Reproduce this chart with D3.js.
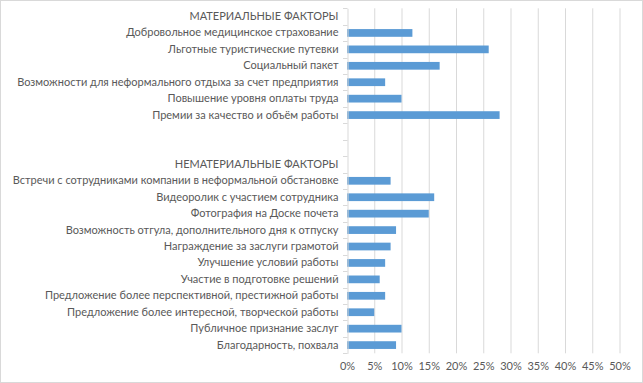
<!DOCTYPE html>
<html><head><meta charset="utf-8">
<script src="https://cdn.jsdelivr.net/npm/d3@7"></script>
<style>body{margin:0;background:#fff}svg{display:block}</style>
</head><body>
<script>
const categories = [
  "МАТЕРИАЛЬНЫЕ ФАКТОРЫ",
  "Добровольное медицинское страхование",
  "Льготные туристические путевки",
  "Социальный пакет",
  "Возможности для неформального отдыха за счет предприятия",
  "Повышение уровня оплаты труда",
  "Премии за качество и объём работы",
  "",
  " ",
  "НЕМАТЕРИАЛЬНЫЕ ФАКТОРЫ",
  "Встречи с сотрудниками компании в неформальной обстановке",
  "Видеоролик с участием сотрудника",
  "Фотография на Доске почета",
  "Возможность отгула, дополнительного дня к отпуску",
  "Награждение за заслуги грамотой",
  "Улучшение условий работы",
  "Участие в подготовке решений",
  "Предложение более перспективной, престижной работы",
  "Предложение более интересной, творческой работы",
  "Публичное признание заслуг",
  "Благодарность, похвала"
];
const values = [null, 12, 26, 17, 7, 10, 28, null, null, null, 8, 16, 15, 9, 8, 7, 6, 7, 5, 10, 9];
const tickValues = [0,5,10,15,20,25,30,35,40,45,50];

(function(){
const W = 643, H = 383;
const pL = 347, pR = 619.5, pT = 8.3, pB = 353.3;
const svg = d3.select("body").append("svg").attr("width", W).attr("height", H);
svg.append("rect").attr("x",0.5).attr("y",0.5).attr("width",W-1).attr("height",H-1)
  .attr("fill","#fff").attr("stroke","#d9d9d9");

const x = d3.scaleLinear().domain([0,50]).range([pL,pR]);
const y = d3.scaleBand().domain(categories.map((c,i)=>i)).range([pT,pB]).paddingInner(0.53).paddingOuter(0.265);
const yb = d3.scaleBand().domain(categories.map((c,i)=>i)).range([pT,pB]);

svg.append("g").selectAll("line").data(tickValues.slice(1)).join("line")
  .attr("x1",d=>x(d)+0.5).attr("x2",d=>x(d)+0.5).attr("y1",pT).attr("y2",pB)
  .attr("stroke","#d9d9d9").attr("stroke-width",1);

const xa = d3.axisBottom(x).tickValues(tickValues).tickFormat(d=>d+"%").tickSize(0).tickPadding(0);
const gx = svg.append("g").attr("transform",`translate(0,${pB+9})`).call(xa);
gx.select(".domain").remove();
gx.selectAll("text").attr("fill","#595959").style("font-family","Lato, Carlito, sans-serif").style("font-size","11px").attr("dy","0.71em");

svg.append("g").selectAll("rect").data(values.map((v,i)=>({v,i})).filter(d=>d.v!=null)).join("rect")
  .attr("x",x(0)).attr("y",d=>y(d.i)).attr("width",d=>x(d.v)-x(0)).attr("height",y.bandwidth())
  .attr("fill","#5b9bd5");

const ya = d3.axisLeft(yb).tickFormat(i=>categories[i]).tickSize(0).tickPadding(9);
const gy = svg.append("g").attr("transform",`translate(${pL+0.5},0)`).call(ya);
gy.select(".domain").attr("stroke","#d9d9d9");
gy.selectAll("text").attr("fill","#595959").style("font-family","Lato, Carlito, sans-serif").style("font-size","11px");
svg.append("g").selectAll("line").data(d3.range(categories.length+1)).join("line")
  .attr("x1",pL-4).attr("x2",pL+0.5)
  .attr("y1",i=>Math.round(pT+i*yb.step())+0.5).attr("y2",i=>Math.round(pT+i*yb.step())+0.5)
  .attr("stroke","#d9d9d9");
})();
</script>
</body></html>
